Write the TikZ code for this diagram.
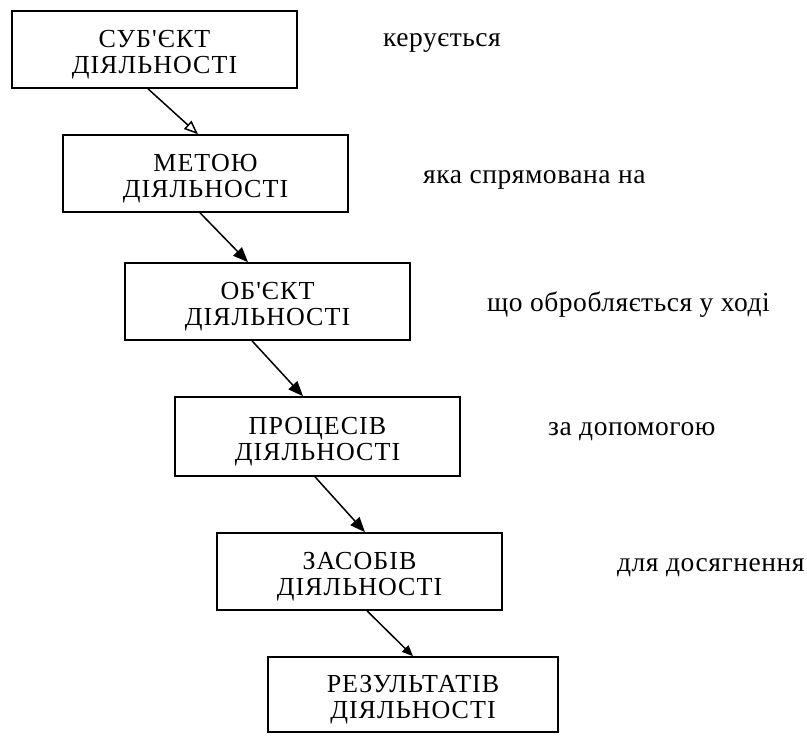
\documentclass[tikz,border=0pt]{standalone}
\usepackage{fontspec}
\setmainfont{Liberation Serif}
\newfontfamily\boxfont[LetterSpace=4]{Liberation Serif}
\newfontfamily\lblfont[LetterSpace=2]{Liberation Serif}
\usetikzlibrary{arrows.meta,calc}
\newcommand{\topstrut}{\rule{0pt}{27pt}}
\begin{document}
\begin{tikzpicture}[x=1pt,y=-1pt,
  stepbox/.style={draw,line width=1.6pt,minimum width=285pt,minimum height=77pt,
    align=center,font=\boxfont\fontsize{26}{26}\selectfont,inner sep=0pt},
  lbl/.style={anchor=west,font=\lblfont\fontsize{27.5}{30}\selectfont,inner sep=0pt},
  conn/.style={line width=1.5pt,-{Triangle[length=15pt,width=12pt]}},
  connopen/.style={line width=1.5pt,-{Triangle[open,length=14pt,width=11pt]}}]
\useasboundingbox (0,0) rectangle (807,738);
\node[stepbox] (b1) at (154.5,49.5) {\topstrut СУБ'ЄКТ\\ДІЯЛЬНОСТІ};
\node[stepbox] (b2) at (205.5,173.5) {\topstrut МЕТОЮ\\ДІЯЛЬНОСТІ};
\node[stepbox] (b3) at (267.5,301.5) {\topstrut ОБ'ЄКТ\\ДІЯЛЬНОСТІ};
\node[stepbox,minimum height=79pt] (b4) at (317.5,436.5) {\topstrut ПРОЦЕСІВ\\ДІЯЛЬНОСТІ};
\node[stepbox] (b5) at (359.5,571.5) {\topstrut ЗАСОБІВ\\ДІЯЛЬНОСТІ};
\node[stepbox,minimum width=290pt,minimum height=75pt] (b6) at (413,694.5) {\topstrut РЕЗУЛЬТАТІВ\\ДІЯЛЬНОСТІ};
\node[lbl] (l1) at (383,43) {керується};
\node[lbl] (l2) at (423,180) {яка спрямована на};
\node[lbl] (l3) at (487,305) {що обробляється у ході};
\node[lbl] (l4) at (548,432) {за допомогою};
\node[lbl] (l5) at (617,568) {для досягнення};
\draw[connopen] ($(b1.south)+(-6.5,0)$) -- ($(b2.north)+(-7.5,0)$);
\draw[conn] ($(b2.south)+(-5.5,0)$) -- ($(b3.north)+(-19.5,0)$);
\draw[conn] ($(b3.south)+(-15.5,0)$) -- ($(b4.north)+(-14.5,0)$);
\draw[conn] ($(b4.south)+(-2.5,0)$) -- ($(b5.north)+(5.5,0)$);
\draw[conn,-{Triangle[length=11pt,width=9pt]}] ($(b5.south)+(7.5,0)$) -- ($(b6.north)+(0,0)$);
\end{tikzpicture}
\end{document}
